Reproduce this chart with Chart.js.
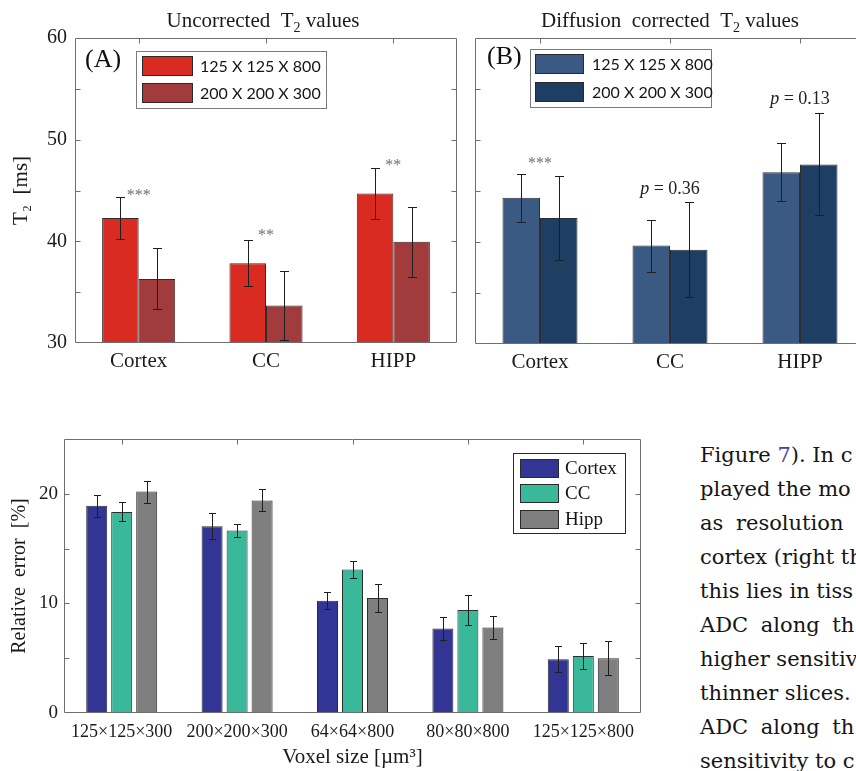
<!DOCTYPE html>
<html><head><meta charset="utf-8">
<script src="https://cdn.jsdelivr.net/npm/chart.js@4.4.1/dist/chart.umd.min.js"></script>
<style>
html,body{margin:0;padding:0;background:#fff;}
body{width:856px;height:771px;overflow:hidden;position:relative;}
canvas{position:absolute;}
#cA{left:0;top:0;}
#cB{left:460px;top:0;}
#cC{left:0;top:420px;}
#body{position:absolute;left:700px;top:438px;font-family:'DejaVu Serif';font-size:21px;line-height:34px;color:#151515;white-space:nowrap;}
#body div{height:34px;}
.ref{color:#4343a6;}
</style></head><body>
<canvas id="cA" width="470" height="385"></canvas>
<canvas id="cB" width="420" height="385"></canvas>
<canvas id="cC" width="660" height="351"></canvas>
<div id="body">
<div>Figure <span class="ref">7</span>). In c</div>
<div>played the mo</div>
<div style="word-spacing:6px">as resolution</div>
<div>cortex (right th</div>
<div>this lies in tiss</div>
<div style="word-spacing:6px">ADC along th</div>
<div>higher sensitiv</div>
<div>thinner slices.</div>
<div style="word-spacing:6px">ADC along th</div>
<div>sensitivity to c</div>
</div>
<script>
// ---------- data ----------
const t2Regions = ['Cortex', 'CC', 'HIPP'];
const resolutionLabels = ['125 X 125 X 800', '200 X 200 X 300'];
const uncorrected125 = [42.3, 37.85, 44.7];
const uncorrected125Sd = [2.1, 2.25, 2.5];
const uncorrected200 = [36.3, 33.7, 39.95];
const uncorrected200Sd = [3.0, 3.4, 3.45];
const corrected125 = [44.35, 39.65, 46.85];
const corrected125Sd = [2.35, 2.55, 2.85];
const corrected200 = [42.35, 39.25, 47.6];
const corrected200Sd = [4.15, 4.65, 5.0];
const uncorrectedMarks = ['***', '**', '**'];
const correctedMarks = ['***', 'p = 0.36', 'p = 0.13'];
const t2TickLabels = [30, 40, 50, 60];

const voxelSizes = ['125×125×300', '200×200×300', '64×64×800', '80×80×800', '125×125×800'];
const regionNames = ['Cortex', 'CC', 'Hipp'];
const cortexRelErr = [18.9, 17.05, 10.25, 7.7, 4.9];
const cortexRelErrSd = [1.0, 1.2, 0.78, 1.05, 1.17];
const ccRelErr = [18.35, 16.65, 13.1, 9.4, 5.2];
const ccRelErrSd = [0.87, 0.58, 0.8, 1.37, 1.2];
const hippRelErr = [20.2, 19.4, 10.5, 7.8, 5.0];
const hippRelErrSd = [1.0, 1.0, 1.28, 1.07, 1.55];
const relErrTickLabels = [0, 10, 20];

// ---------- drawing helpers ----------
const SERIF = "'Liberation Serif', 'Times New Roman', serif";
const SANS = "Lato, 'Open Sans', sans-serif";

function drawRich(ctx, parts, x, y, align) {
  let w = 0;
  parts.forEach(p => { ctx.font = p.font; p.w = ctx.measureText(p.t).width; w += p.w; });
  let cx = align === 'center' ? x - w / 2 : x;
  ctx.textAlign = 'left';
  parts.forEach(p => { ctx.font = p.font; ctx.fillText(p.t, cx, y + (p.dy || 0)); cx += p.w; });
}

const figurePlugin = {
  id: 'figure',
  afterDatasetsDraw(chart, args, o) {
    const ctx = chart.ctx, ys = chart.scales.y;
    ctx.save();
    ctx.strokeStyle = o.errColor; ctx.lineWidth = 1;
    chart.data.datasets.forEach((ds, di) => {
      const meta = chart.getDatasetMeta(di);
      meta.data.forEach((el, i) => {
        const v = ds.data[i], e = ds.errors[i];
        const x = Math.round(el.x) + 0.5;
        const y1 = Math.round(ys.getPixelForValue(v + e)) + 0.5;
        const y2 = Math.round(ys.getPixelForValue(v - e)) + 0.5;
        ctx.beginPath();
        ctx.moveTo(x, y1); ctx.lineTo(x, y2);
        ctx.moveTo(x - o.capW / 2, y1); ctx.lineTo(x + o.capW / 2, y1);
        ctx.moveTo(x - o.capW / 2, y2); ctx.lineTo(x + o.capW / 2, y2);
        ctx.stroke();
      });
    });
    ctx.restore();
  },
  afterDraw(chart, args, o) {
    const ctx = chart.ctx, xs = chart.scales.x, ys = chart.scales.y, a = chart.chartArea;
    ctx.save();
    // frame
    ctx.strokeStyle = o.frame; ctx.lineWidth = 1;
    const L = Math.round(a.left) + 0.5, R = Math.round(a.right) - 0.5;
    const T = Math.round(a.top) + 0.5, B = Math.round(a.bottom) - 0.5;
    ctx.beginPath();
    ctx.moveTo(L, T); ctx.lineTo(R, T); ctx.lineTo(R, B); ctx.lineTo(L, B); ctx.closePath();
    ctx.stroke();
    // inward ticks
    ctx.beginPath();
    ys.ticks.forEach(t => {
      const y = Math.round(ys.getPixelForValue(t.value)) + 0.5;
      if (y <= T + 1 || y >= B - 1) return;
      ctx.moveTo(L, y); ctx.lineTo(L + o.tickLen, y);
      ctx.moveTo(R, y); ctx.lineTo(R - o.tickLen, y);
    });
    chart.data.labels.forEach((l, i) => {
      const x = Math.round(xs.getPixelForValue(i)) + 0.5;
      ctx.moveTo(x, T); ctx.lineTo(x, T + o.tickLen);
    });
    ctx.stroke();
    // title
    if (o.title) {
      ctx.fillStyle = '#1a1a1a'; ctx.textBaseline = 'alphabetic';
      const f = o.title.size;
      drawRich(ctx, [
        { t: o.title.pre, font: f + 'px ' + SERIF },
        { t: '2', font: Math.round(f * 0.68) + 'px ' + SERIF, dy: f * 0.22 },
        { t: o.title.post, font: f + 'px ' + SERIF }
      ], (a.left + a.right) / 2 + (o.title.dx || 0), o.title.y, 'center');
    }
    // panel tag
    if (o.tag) {
      ctx.fillStyle = '#111'; ctx.font = o.tag.size + 'px ' + SERIF;
      ctx.textAlign = 'left'; ctx.textBaseline = 'alphabetic';
      ctx.fillText(o.tag.text, o.tag.x, o.tag.y);
    }
    // annotations above groups
    if (o.notes) {
      o.notes.texts.forEach((txt, i) => {
        const x = xs.getPixelForValue(i);
        const v = o.notes.values[i];
        ctx.textBaseline = 'alphabetic';
        if (txt.startsWith('p ')) {
          const f = o.notes.pSize;
          ctx.fillStyle = '#222';
          drawRich(ctx, [
            { t: 'p', font: 'italic ' + f + 'px ' + SERIF },
            { t: txt.slice(1), font: f + 'px ' + SERIF }
          ], x, ys.getPixelForValue(v) + f * 0.34, 'center');
        } else {
          const f = o.notes.starSize;
          ctx.fillStyle = '#6f6f6f';
          ctx.font = f + 'px ' + SERIF; ctx.textAlign = 'center';
          ctx.fillText(txt, x, ys.getPixelForValue(v) + f * 0.47);
        }
      });
    }
    // legend
    if (o.legend) {
      const g = o.legend;
      ctx.fillStyle = '#fff'; ctx.fillRect(g.x, g.y, g.w, g.h);
      ctx.strokeStyle = g.border; ctx.lineWidth = 1;
      ctx.strokeRect(g.x + 0.5, g.y + 0.5, g.w - 1, g.h - 1);
      chart.data.datasets.forEach((ds, i) => {
        const ry = g.rows[i];
        ctx.fillStyle = ds.backgroundColor;
        ctx.fillRect(g.swX, ry, g.swW, g.swH);
        ctx.strokeStyle = '#2a2a2a';
        ctx.strokeRect(g.swX + 0.5, ry + 0.5, g.swW - 1, g.swH - 1);
        ctx.fillStyle = '#151515'; ctx.font = g.font;
        ctx.textAlign = 'left'; ctx.textBaseline = 'middle';
        ctx.fillText(ds.label, g.textX, ry + g.swH / 2 + 1);
      });
    }
    ctx.restore();
  }
};
Chart.register(figurePlugin);

function barSet(label, data, errs, color) {
  return { label, data, errors: errs, backgroundColor: color, borderColor: '#2e2e2e', borderWidth: 1 };
}

function t2Options(showY, padLeft, padRight, bottom, fig) {
  return {
    responsive: false, animation: false,
    layout: { padding: { top: 38, right: padRight, left: padLeft, bottom: 0 } },
    plugins: { legend: { display: false }, tooltip: { enabled: false }, figure: fig },
    scales: {
      x: {
        grid: { display: false, drawTicks: false }, border: { display: false },
        ticks: { font: { family: SERIF, size: 21 }, color: '#1a1a1a', padding: 6, maxRotation: 0 },
        afterFit(s) { s.height = 385 - bottom; }
      },
      y: {
        display: showY, min: 30, max: 60,
        grid: { display: false, drawTicks: false }, border: { display: false },
        ticks: { stepSize: 5, autoSkip: false, font: { family: SERIF, size: 20 }, color: '#1a1a1a', padding: 8,
          callback: v => t2TickLabels.includes(v) ? String(v) : '' },
        title: { display: showY, text: 'T₂  [ms]', font: { family: SERIF, size: 21 }, color: '#1a1a1a', padding: { top: 9, bottom: 0 } },
        afterFit(s) { s.width = showY ? 75 : 0; }
      }
    }
  };
}

// Panel A
new Chart(document.getElementById('cA'), {
  type: 'bar',
  data: {
    labels: t2Regions,
    datasets: [
      Object.assign(barSet(resolutionLabels[0], uncorrected125, uncorrected125Sd, '#d92b22'), { categoryPercentage: 0.574, barPercentage: 1 }),
      Object.assign(barSet(resolutionLabels[1], uncorrected200, uncorrected200Sd, '#a13b3c'), { categoryPercentage: 0.574, barPercentage: 1 })
    ]
  },
  options: t2Options(true, 0, 13, 343, {
    frame: '#6e6e6e', tickLen: 5, errColor: '#1e1e1e', capW: 9,
    title: { pre: 'Uncorrected  T', post: ' values', size: 21, y: 27, dx: -3 },
    tag: { text: '(A)', x: 85, y: 67, size: 26 },
    notes: { texts: uncorrectedMarks, values: [44.85, 40.9, 47.8], starSize: 16, pSize: 18 },
    legend: { x: 136, y: 51, w: 191, h: 58, swX: 142, swW: 51, swH: 20, rows: [56, 83], textX: 200,
      font: '16px ' + SANS, border: '#7a7a7a' }
  })
});

// Panel B
new Chart(document.getElementById('cB'), {
  type: 'bar',
  data: {
    labels: t2Regions,
    datasets: [
      Object.assign(barSet(resolutionLabels[0], corrected125, corrected125Sd, '#3a5a84'), { categoryPercentage: 0.577, barPercentage: 1 }),
      Object.assign(barSet(resolutionLabels[1], corrected200, corrected200Sd, '#1e3e64'), { categoryPercentage: 0.577, barPercentage: 1 })
    ]
  },
  options: t2Options(false, 15, 15, 344, {
    frame: '#6e6e6e', tickLen: 5, errColor: '#1e1e1e', capW: 9,
    title: { pre: 'Diffusion  corrected  T', post: ' values', size: 21, y: 27, dx: 0 },
    tag: { text: '(B)', x: 27, y: 64, size: 26 },
    notes: { texts: correctedMarks, values: [48.0, 45.3, 54.1], starSize: 16, pSize: 18 },
    legend: { x: 70, y: 49, w: 182, h: 59, swX: 75, swW: 49, swH: 20, rows: [54, 82], textX: 132,
      font: '16px ' + SANS, border: '#7a7a7a' }
  })
});

// Panel C (relative error)
new Chart(document.getElementById('cC'), {
  type: 'bar',
  data: {
    labels: voxelSizes,
    datasets: [
      barSet(regionNames[0], cortexRelErr, cortexRelErrSd, '#333595'),
      barSet(regionNames[1], ccRelErr, ccRelErrSd, '#3ab89a'),
      barSet(regionNames[2], hippRelErr, hippRelErrSd, '#7f7f7f')
    ].map(d => Object.assign(d, { categoryPercentage: 0.65, barPercentage: 0.84 }))
  },
  options: {
    responsive: false, animation: false,
    layout: { padding: { top: 19, right: 19, left: 0, bottom: 0 } },
    plugins: {
      legend: { display: false }, tooltip: { enabled: false },
      figure: {
        frame: '#6e6e6e', tickLen: 5, errColor: '#1e1e1e', capW: 7,
        legend: { x: 513, y: 33, w: 113, h: 81, swX: 520, swW: 39, swH: 19, rows: [39, 64, 90], textX: 565,
          font: '19px ' + SERIF, border: '#2a2a2a' }
      }
    },
    scales: {
      x: {
        grid: { display: false, drawTicks: false }, border: { display: false },
        ticks: { font: { family: SERIF, size: 18 }, color: '#1a1a1a', padding: 8, maxRotation: 0, autoSkip: false },
        title: { display: true, text: 'Voxel size [µm³]', font: { family: SERIF, size: 21 }, color: '#1a1a1a', padding: { top: 0, bottom: 1 } },
        afterFit(s) { s.height = 58; }
      },
      y: {
        min: 0, max: 25,
        grid: { display: false, drawTicks: false }, border: { display: false },
        ticks: { stepSize: 5, autoSkip: false, font: { family: SERIF, size: 19 }, color: '#1a1a1a', padding: 6,
          callback: v => relErrTickLabels.includes(v) ? String(v) : '' },
        title: { display: true, text: 'Relative  error  [%]', font: { family: SERIF, size: 20 }, color: '#1a1a1a', padding: { top: 8, bottom: 0 } },
        afterFit(s) { s.width = 64; }
      }
    }
  }
});
</script>
</body></html>
